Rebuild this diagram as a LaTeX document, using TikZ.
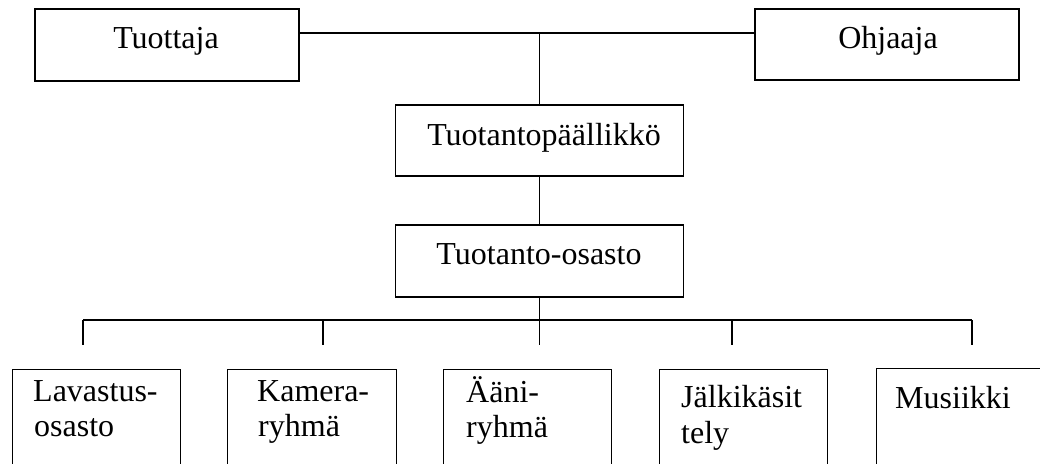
\documentclass[tikz,border=0pt]{standalone}
\usepackage{fontspec}
\setmainfont{Liberation Serif}
\begin{document}
\begin{tikzpicture}[x=1pt,y=-1pt,
  box/.style={draw,line width=1.3pt,rectangle,inner sep=0pt},
  wire/.style={line width=1.3pt},
  lbl/.style={inner sep=0pt,font=\fontsize{32}{36}\selectfont}]
\useasboundingbox (0,0) rectangle (1040,463);
\clip (0,0) rectangle (1040,463);
% top boxes
\node[box,minimum width=264pt,minimum height=72pt] (tuottaja) at (167,45) {};
\node[lbl,anchor=base] at (166,48.5) {Tuottaja};
\node[box,minimum width=264pt,minimum height=71pt] (ohjaaja) at (887,44.5) {};
\node[lbl,anchor=base] at (888,48.5) {Ohjaaja};
\node[box,minimum width=288pt,minimum height=71pt] (tp) at (539.5,140.5) {};
\node[lbl,anchor=base] at (544,145) {Tuotantopäällikkö};
\node[box,minimum width=288pt,minimum height=72pt] (to) at (539.5,261) {};
\node[lbl,anchor=base] at (539,264) {Tuotanto-osasto};
% bottom boxes
\node[box,anchor=north west,minimum width=168pt,minimum height=120pt] (b1) at (12,369) {};
\node[box,anchor=north west,minimum width=169pt,minimum height=120pt] (b2) at (227,369) {};
\node[box,anchor=north west,minimum width=168pt,minimum height=120pt] (b3) at (443,369) {};
\node[box,anchor=north west,minimum width=168pt,minimum height=120pt] (b4) at (659,369) {};
\node[box,anchor=north west,minimum width=180pt,minimum height=120pt] (b5) at (876,368) {};
\node[lbl,anchor=base west] at (33,401) {Lavastus-};
\node[lbl,anchor=base west] at (34,436) {osasto};
\node[lbl,anchor=base west] at (257,401) {Kamera-};
\node[lbl,anchor=base west] at (258,436) {ryhmä};
\node[lbl,anchor=base west] at (466,402) {Ääni-};
\node[lbl,anchor=base west] at (466,437) {ryhmä};
\node[lbl,anchor=base west] at (681,407) {Jälkikäsit};
\node[lbl,anchor=base west] at (681,443) {tely};
\node[lbl,anchor=base west] at (895,408) {Musiikki};
% connectors
\coordinate (j1) at (539.5,33);
\coordinate (bus) at (539.5,320);
\coordinate (bl) at (83,320);
\coordinate (br) at (972,320);
\coordinate (d1) at (83,345);
\coordinate (d2) at (323,345);
\coordinate (d3) at (539.5,345);
\coordinate (d4) at (732,345);
\coordinate (d5) at (972,345);
\draw[wire] (tuottaja.east |- j1) -- (ohjaaja.west |- j1);
\draw[wire] (j1) -- (tp.north);
\draw[wire] (tp.south) -- (to.north);
\draw[wire] (to.south) -- (bus);
\draw[wire] (bl) -- (br);
\draw[wire] (bl) -- (d1);
\draw[wire] (d2 |- bus) -- (d2);
\draw[wire] (bus) -- (d3);
\draw[wire] (d4 |- bus) -- (d4);
\draw[wire] (br) -- (d5);
\end{tikzpicture}
\end{document}
